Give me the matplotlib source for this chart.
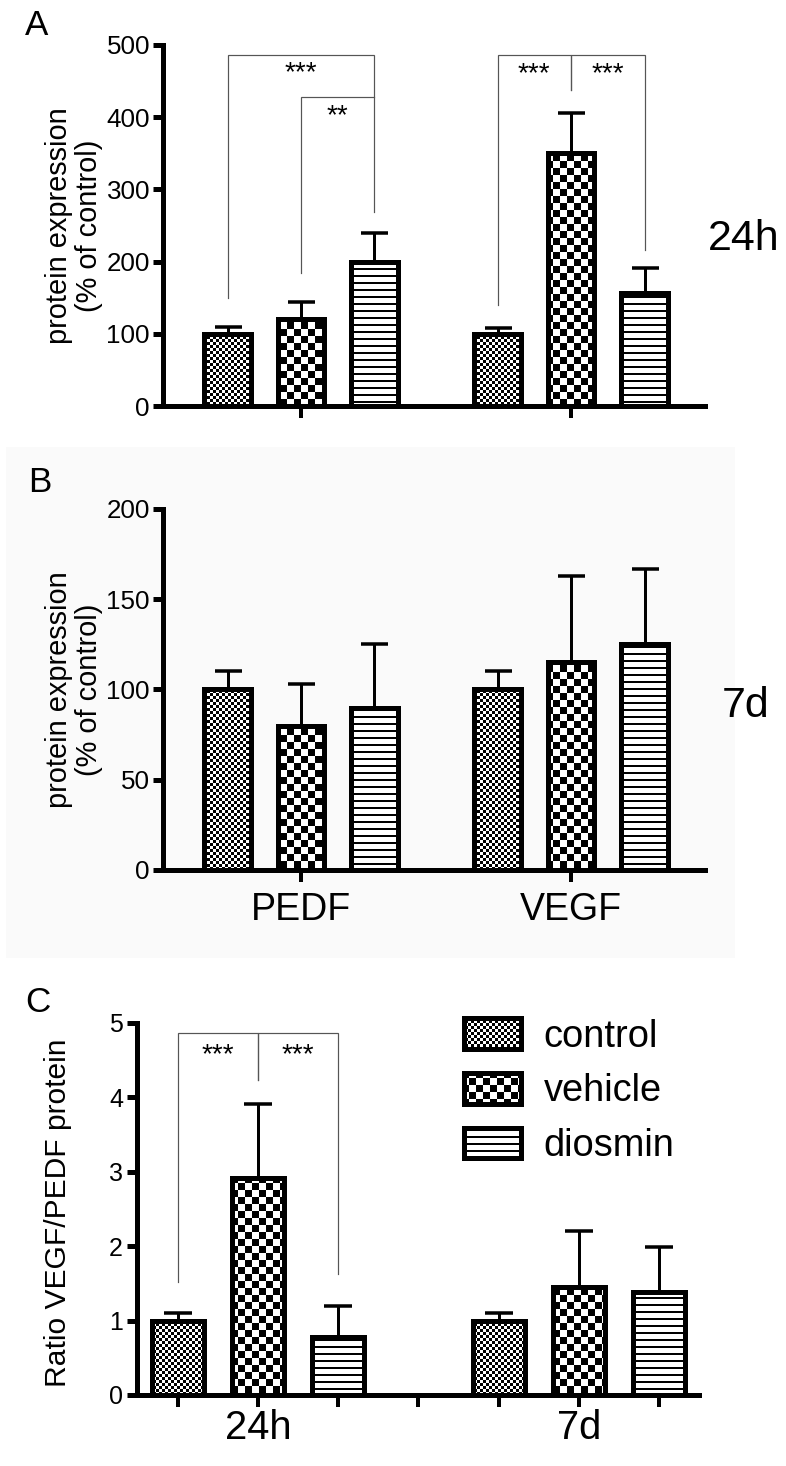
import numpy as np
import matplotlib
matplotlib.use('Agg')
import matplotlib.pyplot as plt
import matplotlib.hatch as mhatch
from matplotlib.path import Path
from matplotlib.patches import Rectangle

# ---------------- data ----------------
treatments = ['control', 'vehicle', 'diosmin']

a_groups = ['PEDF', 'VEGF']
a_pedf_mean = [100, 120, 200]
a_pedf_top = [110, 144, 239]
a_vegf_mean = [100, 350, 156]
a_vegf_top = [108, 406, 191]
a_yticks = [0, 100, 200, 300, 400, 500]

b_groups = ['PEDF', 'VEGF']
b_pedf_mean = [100, 80, 90]
b_pedf_top = [110, 103, 125]
b_vegf_mean = [100, 115, 125]
b_vegf_top = [110, 163, 167]
b_yticks = [0, 50, 100, 150, 200]

c_groups = ['24h', '7d']
c_24h_mean = [1.0, 2.92, 0.78]
c_24h_top = [1.10, 3.91, 1.19]
c_7d_mean = [1.0, 1.45, 1.39]
c_7d_top = [1.10, 2.21, 1.99]
c_yticks = [0, 1, 2, 3, 4, 5]

# significance brackets: (bar i, bar j, top, leg bottom i, leg bottom j, label, label y)
a_brackets = [
    (0, 2, 486, 150, 269, '***', 467),
    (1, 2, 428, 184, 428, '**', 407),
    (3, 4, 486, 140, 437, '***', 465),
    (4, 5, 486, 437, 216, '***', 465),
]
c_brackets = [
    (0, 1, 4.87, 1.52, 4.23, '***', 4.63),
    (1, 2, 4.87, 4.23, 1.63, '***', 4.63),
]

# ---------------- setup ----------------
DPI = 84
W, H = 786, 1466


def P(px):
    return px * 72.0 / DPI


def rect(l, t, r, b):
    return [l / W, 1 - b / H, (r - l) / W, (b - t) / H]


# custom fill patterns (checkerboards, stripes) as hatch types
class _Cells(mhatch.HatchPatternBase):
    char = ''

    def __init__(self, hatch, density):
        self.rects = self.cells() if (hatch and self.char in hatch) else []
        self.num_vertices = 5 * len(self.rects)

    def cells(self):
        return []

    def set_vertices_and_codes(self, vertices, codes):
        for k, (x0, y0, x1, y1) in enumerate(self.rects):
            vertices[5 * k:5 * k + 5] = [(x0, y0), (x1, y0), (x1, y1), (x0, y1), (x0, y0)]
            codes[5 * k] = Path.MOVETO
            codes[5 * k + 1:5 * k + 4] = Path.LINETO
            codes[5 * k + 4] = Path.CLOSEPOLY


def _checker(n):
    return [(i / n, j / n, (i + 1) / n, (j + 1) / n)
            for i in range(n) for j in range(n) if (i + j) % 2 == 0]


class FineChecker(_Cells):
    char = '.'

    def cells(self):
        return _checker(28)


class CoarseChecker(_Cells):
    char = 'O'

    def cells(self):
        return _checker(12)


class Stripes(_Cells):
    char = '-'

    def cells(self):
        step, w = 7, 2
        return [(0, (step * i + 3) / DPI, 1, (step * i + 3 + w) / DPI)
                for i in range(DPI // step)]


mhatch._hatch_types[:] = [FineChecker, CoarseChecker, Stripes]

plt.rcParams['font.family'] = ['Liberation Sans', 'DejaVu Sans']
plt.rcParams['hatch.linewidth'] = 0.0

HATCHES = ['.', 'O', '-']
EDGE = P(5)
BRK = '#555555'

fig = plt.figure(figsize=(W / DPI, H / DPI), dpi=DPI, facecolor='white')
fig.patches.append(Rectangle((6 / W, 1 - 958 / H), 729 / W, 511 / H,
                             transform=fig.transFigure, facecolor='#fafafa',
                             edgecolor='none', zorder=-5))


def style_axes(ax, yticks, fs, pad):
    ax.set_facecolor('none')
    for s in ['top', 'right']:
        ax.spines[s].set_visible(False)
    for s in ['left', 'bottom']:
        ax.spines[s].set_linewidth(EDGE)
    ax.set_ylim(yticks[0], yticks[-1])
    ax.set_yticks(yticks)
    ax.tick_params(axis='y', length=P(10), width=EDGE, pad=P(pad), labelsize=P(fs))


def draw_bars(ax, xs_list, means_list, tops_list, width, capsize):
    conts = []
    for j in range(3):
        xs = np.array(xs_list[j], dtype=float)
        ms = np.array(means_list[j], dtype=float)
        tp = np.array(tops_list[j], dtype=float)
        c = ax.bar(xs, ms, width, facecolor='white', edgecolor='black',
                   linewidth=EDGE, hatch=HATCHES[j], zorder=2)
        ax.errorbar(xs, ms, yerr=[np.zeros_like(ms), tp - ms], fmt='none',
                    ecolor='black', elinewidth=P(3), capsize=P(capsize),
                    capthick=P(3.5), zorder=1)
        conts.append(c)
    return conts


def draw_brackets(ax, xpos, brackets, fs):
    for i, j, top, bi, bj, lab, ly in brackets:
        xi, xj = xpos[i], xpos[j]
        ax.plot([xi, xi, xj, xj], [bi, top, top, bj], color=BRK, lw=P(1.2),
                zorder=3, solid_joinstyle='miter')
        ax.annotate(lab, ((xi + xj) / 2, ly), xytext=(0, -0.40 * P(fs)),
                    textcoords='offset points', ha='center', va='baseline',
                    fontsize=P(fs))


# ---------------- panels A and B ----------------
OFF, BW = 0.272, 0.173


def grouped_panel(axrect, pedf_m, pedf_t, vegf_m, vegf_t, yticks, xlabels):
    ax = fig.add_axes(axrect)
    style_axes(ax, yticks, 26, 3)
    xs_list = [[g + (j - 1) * OFF for g in range(2)] for j in range(3)]
    means_list = [[pedf_m[j], vegf_m[j]] for j in range(3)]
    tops_list = [[pedf_t[j], vegf_t[j]] for j in range(3)]
    draw_bars(ax, xs_list, means_list, tops_list, BW, 13.5)
    ax.set_xlim(-0.511, 1.496)
    ax.set_xticks([0, 1])
    ax.set_xticklabels(xlabels)
    ax.tick_params(axis='x', length=P(12), width=P(4), pad=P(10), labelsize=P(37.5))
    ax.set_ylabel('protein expression\n(% of control)', fontsize=P(29),
                  linespacing=1.1, ha='center', va='center')
    ax.yaxis.set_label_coords(-(163 - 74) / 542, 0.5)
    xpos = [g + (j - 1) * OFF for g in range(2) for j in range(3)]
    return ax, xpos


axA, xposA = grouped_panel(rect(163, 45, 705, 406), a_pedf_mean, a_pedf_top,
                           a_vegf_mean, a_vegf_top, a_yticks, ['', ''])
draw_brackets(axA, xposA, a_brackets, 28)

axB, xposB = grouped_panel(rect(163, 509, 705, 870), b_pedf_mean, b_pedf_top,
                           b_vegf_mean, b_vegf_top, b_yticks, b_groups)

# ---------------- panel C ----------------
axC = fig.add_axes(rect(137, 1023, 699, 1395))
style_axes(axC, c_yticks, 25, 4)
xs_list = [[j, j + 4] for j in range(3)]
means_list = [[c_24h_mean[j], c_7d_mean[j]] for j in range(3)]
tops_list = [[c_24h_top[j], c_7d_top[j]] for j in range(3)]
c_bars = draw_bars(axC, xs_list, means_list, tops_list, 0.65, 14)
axC.set_xlim(-0.511, 6.5)
axC.set_xticks(range(7))
axC.set_xticklabels(['', c_groups[0], '', '', '', c_groups[1], ''])
axC.tick_params(axis='x', length=P(12), width=P(4), pad=P(2), labelsize=P(40))
axC.set_ylabel('Ratio VEGF/PEDF protein', fontsize=P(30), ha='center', va='center')
axC.yaxis.set_label_coords(-(137 - 58) / 562, 0.49)
draw_brackets(axC, [0, 1, 2, 4, 5, 6], c_brackets, 28)

axC.legend(handles=c_bars, labels=treatments, loc='upper left',
           bbox_to_anchor=((464 - 137) / 562, (1395 - 1018) / 372),
           frameon=False, fontsize=P(38), handlelength=57 / 38,
           handleheight=33 / 38, handletextpad=0.6, labelspacing=0.48,
           borderpad=0, borderaxespad=0)

# ---------------- text labels ----------------
fig.text(25 / W, 1 - 35 / H, 'A', fontsize=P(35), va='baseline', ha='left')
fig.text(28 / W, 1 - 492 / H, 'B', fontsize=P(35), va='baseline', ha='left')
fig.text(25 / W, 1 - 1012 / H, 'C', fontsize=P(35), va='baseline', ha='left')
fig.text(708 / W, 1 - 250 / H, '24h', fontsize=P(43), va='baseline', ha='left')
fig.text(722 / W, 1 - 717 / H, '7d', fontsize=P(43), va='baseline', ha='left')

fig.savefig('out.png', dpi=DPI, facecolor='white')
